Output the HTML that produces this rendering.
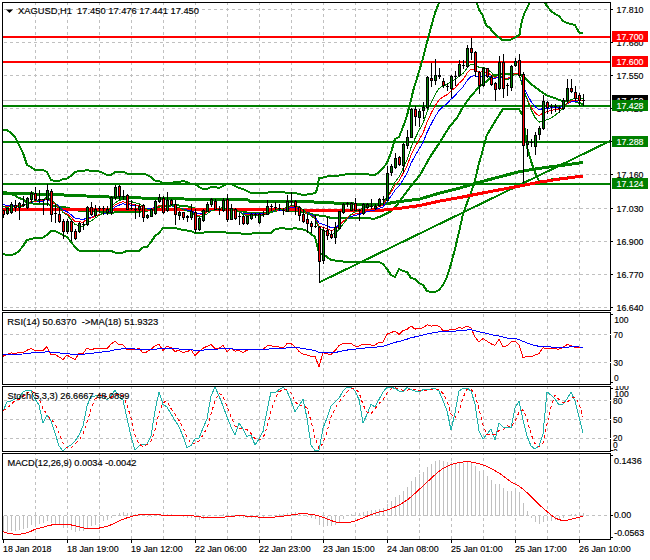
<!DOCTYPE html><html><head><meta charset="utf-8"><style>html,body{margin:0;padding:0;background:#fff;width:650px;height:560px;overflow:hidden}svg{display:block}text{font-family:"Liberation Sans",sans-serif;font-size:9.2px;stroke-width:0.15px}</style></head><body>
<svg width="650" height="560" viewBox="0 0 650 560">
<defs><clipPath id="cm"><rect x="3" y="3" width="607" height="307"/></clipPath><clipPath id="cr"><rect x="3" y="313" width="607" height="71"/></clipPath><clipPath id="cs"><rect x="3" y="387" width="607" height="64"/></clipPath><clipPath id="cd"><rect x="3" y="454" width="607" height="85"/></clipPath></defs>
<g shape-rendering="crispEdges">
<line x1="4" y1="9.5" x2="610" y2="9.5" stroke="#c0c0c0" stroke-dasharray="3 3"/><line x1="4" y1="42.5" x2="610" y2="42.5" stroke="#c0c0c0" stroke-dasharray="3 3"/><line x1="4" y1="75.5" x2="610" y2="75.5" stroke="#c0c0c0" stroke-dasharray="3 3"/><line x1="4" y1="108.5" x2="610" y2="108.5" stroke="#c0c0c0" stroke-dasharray="3 3"/><line x1="4" y1="141.5" x2="610" y2="141.5" stroke="#c0c0c0" stroke-dasharray="3 3"/><line x1="4" y1="174.5" x2="610" y2="174.5" stroke="#c0c0c0" stroke-dasharray="3 3"/><line x1="4" y1="208.5" x2="610" y2="208.5" stroke="#c0c0c0" stroke-dasharray="3 3"/><line x1="4" y1="241.5" x2="610" y2="241.5" stroke="#c0c0c0" stroke-dasharray="3 3"/><line x1="4" y1="274.5" x2="610" y2="274.5" stroke="#c0c0c0" stroke-dasharray="3 3"/><line x1="4" y1="307.5" x2="610" y2="307.5" stroke="#c0c0c0" stroke-dasharray="3 3"/>
<g clip-path="url(#cm)"><line x1="35.5" y1="2" x2="35.5" y2="310" stroke="#c0c0c0" stroke-dasharray="3 3"/></g>
<g clip-path="url(#cr)"><line x1="35.5" y1="308" x2="35.5" y2="384" stroke="#c0c0c0" stroke-dasharray="3 3"/></g>
<g clip-path="url(#cs)"><line x1="35.5" y1="386" x2="35.5" y2="451" stroke="#c0c0c0" stroke-dasharray="3 3"/></g>
<g clip-path="url(#cd)"><line x1="35.5" y1="452" x2="35.5" y2="539" stroke="#c0c0c0" stroke-dasharray="3 3"/></g>
<g clip-path="url(#cm)"><line x1="67.5" y1="2" x2="67.5" y2="310" stroke="#c0c0c0" stroke-dasharray="3 3"/></g>
<g clip-path="url(#cr)"><line x1="67.5" y1="308" x2="67.5" y2="384" stroke="#c0c0c0" stroke-dasharray="3 3"/></g>
<g clip-path="url(#cs)"><line x1="67.5" y1="386" x2="67.5" y2="451" stroke="#c0c0c0" stroke-dasharray="3 3"/></g>
<g clip-path="url(#cd)"><line x1="67.5" y1="452" x2="67.5" y2="539" stroke="#c0c0c0" stroke-dasharray="3 3"/></g>
<g clip-path="url(#cm)"><line x1="99.5" y1="2" x2="99.5" y2="310" stroke="#c0c0c0" stroke-dasharray="3 3"/></g>
<g clip-path="url(#cr)"><line x1="99.5" y1="308" x2="99.5" y2="384" stroke="#c0c0c0" stroke-dasharray="3 3"/></g>
<g clip-path="url(#cs)"><line x1="99.5" y1="386" x2="99.5" y2="451" stroke="#c0c0c0" stroke-dasharray="3 3"/></g>
<g clip-path="url(#cd)"><line x1="99.5" y1="452" x2="99.5" y2="539" stroke="#c0c0c0" stroke-dasharray="3 3"/></g>
<g clip-path="url(#cm)"><line x1="131.5" y1="2" x2="131.5" y2="310" stroke="#c0c0c0" stroke-dasharray="3 3"/></g>
<g clip-path="url(#cr)"><line x1="131.5" y1="308" x2="131.5" y2="384" stroke="#c0c0c0" stroke-dasharray="3 3"/></g>
<g clip-path="url(#cs)"><line x1="131.5" y1="386" x2="131.5" y2="451" stroke="#c0c0c0" stroke-dasharray="3 3"/></g>
<g clip-path="url(#cd)"><line x1="131.5" y1="452" x2="131.5" y2="539" stroke="#c0c0c0" stroke-dasharray="3 3"/></g>
<g clip-path="url(#cm)"><line x1="163.5" y1="2" x2="163.5" y2="310" stroke="#c0c0c0" stroke-dasharray="3 3"/></g>
<g clip-path="url(#cr)"><line x1="163.5" y1="308" x2="163.5" y2="384" stroke="#c0c0c0" stroke-dasharray="3 3"/></g>
<g clip-path="url(#cs)"><line x1="163.5" y1="386" x2="163.5" y2="451" stroke="#c0c0c0" stroke-dasharray="3 3"/></g>
<g clip-path="url(#cd)"><line x1="163.5" y1="452" x2="163.5" y2="539" stroke="#c0c0c0" stroke-dasharray="3 3"/></g>
<g clip-path="url(#cm)"><line x1="195.5" y1="2" x2="195.5" y2="310" stroke="#c0c0c0" stroke-dasharray="3 3"/></g>
<g clip-path="url(#cr)"><line x1="195.5" y1="308" x2="195.5" y2="384" stroke="#c0c0c0" stroke-dasharray="3 3"/></g>
<g clip-path="url(#cs)"><line x1="195.5" y1="386" x2="195.5" y2="451" stroke="#c0c0c0" stroke-dasharray="3 3"/></g>
<g clip-path="url(#cd)"><line x1="195.5" y1="452" x2="195.5" y2="539" stroke="#c0c0c0" stroke-dasharray="3 3"/></g>
<g clip-path="url(#cm)"><line x1="227.5" y1="2" x2="227.5" y2="310" stroke="#c0c0c0" stroke-dasharray="3 3"/></g>
<g clip-path="url(#cr)"><line x1="227.5" y1="308" x2="227.5" y2="384" stroke="#c0c0c0" stroke-dasharray="3 3"/></g>
<g clip-path="url(#cs)"><line x1="227.5" y1="386" x2="227.5" y2="451" stroke="#c0c0c0" stroke-dasharray="3 3"/></g>
<g clip-path="url(#cd)"><line x1="227.5" y1="452" x2="227.5" y2="539" stroke="#c0c0c0" stroke-dasharray="3 3"/></g>
<g clip-path="url(#cm)"><line x1="259.5" y1="2" x2="259.5" y2="310" stroke="#c0c0c0" stroke-dasharray="3 3"/></g>
<g clip-path="url(#cr)"><line x1="259.5" y1="308" x2="259.5" y2="384" stroke="#c0c0c0" stroke-dasharray="3 3"/></g>
<g clip-path="url(#cs)"><line x1="259.5" y1="386" x2="259.5" y2="451" stroke="#c0c0c0" stroke-dasharray="3 3"/></g>
<g clip-path="url(#cd)"><line x1="259.5" y1="452" x2="259.5" y2="539" stroke="#c0c0c0" stroke-dasharray="3 3"/></g>
<g clip-path="url(#cm)"><line x1="291.5" y1="2" x2="291.5" y2="310" stroke="#c0c0c0" stroke-dasharray="3 3"/></g>
<g clip-path="url(#cr)"><line x1="291.5" y1="308" x2="291.5" y2="384" stroke="#c0c0c0" stroke-dasharray="3 3"/></g>
<g clip-path="url(#cs)"><line x1="291.5" y1="386" x2="291.5" y2="451" stroke="#c0c0c0" stroke-dasharray="3 3"/></g>
<g clip-path="url(#cd)"><line x1="291.5" y1="452" x2="291.5" y2="539" stroke="#c0c0c0" stroke-dasharray="3 3"/></g>
<g clip-path="url(#cm)"><line x1="323.5" y1="2" x2="323.5" y2="310" stroke="#c0c0c0" stroke-dasharray="3 3"/></g>
<g clip-path="url(#cr)"><line x1="323.5" y1="308" x2="323.5" y2="384" stroke="#c0c0c0" stroke-dasharray="3 3"/></g>
<g clip-path="url(#cs)"><line x1="323.5" y1="386" x2="323.5" y2="451" stroke="#c0c0c0" stroke-dasharray="3 3"/></g>
<g clip-path="url(#cd)"><line x1="323.5" y1="452" x2="323.5" y2="539" stroke="#c0c0c0" stroke-dasharray="3 3"/></g>
<g clip-path="url(#cm)"><line x1="355.5" y1="2" x2="355.5" y2="310" stroke="#c0c0c0" stroke-dasharray="3 3"/></g>
<g clip-path="url(#cr)"><line x1="355.5" y1="308" x2="355.5" y2="384" stroke="#c0c0c0" stroke-dasharray="3 3"/></g>
<g clip-path="url(#cs)"><line x1="355.5" y1="386" x2="355.5" y2="451" stroke="#c0c0c0" stroke-dasharray="3 3"/></g>
<g clip-path="url(#cd)"><line x1="355.5" y1="452" x2="355.5" y2="539" stroke="#c0c0c0" stroke-dasharray="3 3"/></g>
<g clip-path="url(#cm)"><line x1="387.5" y1="2" x2="387.5" y2="310" stroke="#c0c0c0" stroke-dasharray="3 3"/></g>
<g clip-path="url(#cr)"><line x1="387.5" y1="308" x2="387.5" y2="384" stroke="#c0c0c0" stroke-dasharray="3 3"/></g>
<g clip-path="url(#cs)"><line x1="387.5" y1="386" x2="387.5" y2="451" stroke="#c0c0c0" stroke-dasharray="3 3"/></g>
<g clip-path="url(#cd)"><line x1="387.5" y1="452" x2="387.5" y2="539" stroke="#c0c0c0" stroke-dasharray="3 3"/></g>
<g clip-path="url(#cm)"><line x1="419.5" y1="2" x2="419.5" y2="310" stroke="#c0c0c0" stroke-dasharray="3 3"/></g>
<g clip-path="url(#cr)"><line x1="419.5" y1="308" x2="419.5" y2="384" stroke="#c0c0c0" stroke-dasharray="3 3"/></g>
<g clip-path="url(#cs)"><line x1="419.5" y1="386" x2="419.5" y2="451" stroke="#c0c0c0" stroke-dasharray="3 3"/></g>
<g clip-path="url(#cd)"><line x1="419.5" y1="452" x2="419.5" y2="539" stroke="#c0c0c0" stroke-dasharray="3 3"/></g>
<g clip-path="url(#cm)"><line x1="451.5" y1="2" x2="451.5" y2="310" stroke="#c0c0c0" stroke-dasharray="3 3"/></g>
<g clip-path="url(#cr)"><line x1="451.5" y1="308" x2="451.5" y2="384" stroke="#c0c0c0" stroke-dasharray="3 3"/></g>
<g clip-path="url(#cs)"><line x1="451.5" y1="386" x2="451.5" y2="451" stroke="#c0c0c0" stroke-dasharray="3 3"/></g>
<g clip-path="url(#cd)"><line x1="451.5" y1="452" x2="451.5" y2="539" stroke="#c0c0c0" stroke-dasharray="3 3"/></g>
<g clip-path="url(#cm)"><line x1="483.5" y1="2" x2="483.5" y2="310" stroke="#c0c0c0" stroke-dasharray="3 3"/></g>
<g clip-path="url(#cr)"><line x1="483.5" y1="308" x2="483.5" y2="384" stroke="#c0c0c0" stroke-dasharray="3 3"/></g>
<g clip-path="url(#cs)"><line x1="483.5" y1="386" x2="483.5" y2="451" stroke="#c0c0c0" stroke-dasharray="3 3"/></g>
<g clip-path="url(#cd)"><line x1="483.5" y1="452" x2="483.5" y2="539" stroke="#c0c0c0" stroke-dasharray="3 3"/></g>
<g clip-path="url(#cm)"><line x1="515.5" y1="2" x2="515.5" y2="310" stroke="#c0c0c0" stroke-dasharray="3 3"/></g>
<g clip-path="url(#cr)"><line x1="515.5" y1="308" x2="515.5" y2="384" stroke="#c0c0c0" stroke-dasharray="3 3"/></g>
<g clip-path="url(#cs)"><line x1="515.5" y1="386" x2="515.5" y2="451" stroke="#c0c0c0" stroke-dasharray="3 3"/></g>
<g clip-path="url(#cd)"><line x1="515.5" y1="452" x2="515.5" y2="539" stroke="#c0c0c0" stroke-dasharray="3 3"/></g>
<g clip-path="url(#cm)"><line x1="547.5" y1="2" x2="547.5" y2="310" stroke="#c0c0c0" stroke-dasharray="3 3"/></g>
<g clip-path="url(#cr)"><line x1="547.5" y1="308" x2="547.5" y2="384" stroke="#c0c0c0" stroke-dasharray="3 3"/></g>
<g clip-path="url(#cs)"><line x1="547.5" y1="386" x2="547.5" y2="451" stroke="#c0c0c0" stroke-dasharray="3 3"/></g>
<g clip-path="url(#cd)"><line x1="547.5" y1="452" x2="547.5" y2="539" stroke="#c0c0c0" stroke-dasharray="3 3"/></g>
<g clip-path="url(#cm)"><line x1="579.5" y1="2" x2="579.5" y2="310" stroke="#c0c0c0" stroke-dasharray="3 3"/></g>
<g clip-path="url(#cr)"><line x1="579.5" y1="308" x2="579.5" y2="384" stroke="#c0c0c0" stroke-dasharray="3 3"/></g>
<g clip-path="url(#cs)"><line x1="579.5" y1="386" x2="579.5" y2="451" stroke="#c0c0c0" stroke-dasharray="3 3"/></g>
<g clip-path="url(#cd)"><line x1="579.5" y1="452" x2="579.5" y2="539" stroke="#c0c0c0" stroke-dasharray="3 3"/></g>
</g>
<g clip-path="url(#cm)">
<g shape-rendering="crispEdges">
<line x1="3" y1="100.5" x2="610" y2="100.5" stroke="#c0c0c0"/>
<line x1="3" y1="37" x2="610" y2="37" stroke="#ff0000" stroke-width="2"/>
<line x1="3" y1="62" x2="610" y2="62" stroke="#ff0000" stroke-width="2"/>
<line x1="3" y1="106" x2="610" y2="106" stroke="#008000" stroke-width="2"/>
<line x1="3" y1="142" x2="610" y2="142" stroke="#008000" stroke-width="2"/>
<line x1="3" y1="184" x2="610" y2="184" stroke="#008000" stroke-width="2"/>
</g>
<line x1="320" y1="282" x2="610" y2="141" stroke="#008000" stroke-width="2" shape-rendering="crispEdges"/>
<g shape-rendering="crispEdges">
<polyline points="3,130 7,130 11,133 15,137 19,145 23,153 27,165 31,167 35,170 43,170 47,172 51,180 55,181 59,181 63,179 67,178.5 71,176 75,172 79,171 83,171 87,170 91,171 99,171.5 103,173 107,175 111,175 115,172 119,171.5 123,171.5 127,173.5 143,173.5 147,175 151,177 155,180.5 159,181 163,183 171,183 175,182 179,182 183,181 187,182 191,184 195,184 199,187 203,189 207,189 211,187 215,187 219,188 223,186 227,184 231,184 235,186 239,188 243,189 247,191 251,193 267,193 271,191.5 275,192 295,193 299,194 303,195 307,194.5 311,194 315,193 317,190 319,178 323,177.5 327,176.5 331,176 339,175.5 343,175 347,174 367,174 371,175 375,175 379,172 383,168 387,163 391,152.5 395,139 399,137 403,127 406.6,117 410.2,103 413.4,90 417.7,76 422.5,60 428.4,37 433,20 436,10 439,3 443,-4 451,-10 467,-10 477,3 479,10 482,14 484,19 486,25 487,26 490,28 493,32.5 496,35 499,37.5 502,40 510,40 514,38 519.5,35 521,25 523,17 525,12 527,8 529,4 531,0 535,-5 539,-5 543,0 547,6 551,11 555,14 559,16 563,21 567,23 571,24 575,25 579,32.5 583,32.5" fill="none" stroke="#008000" stroke-width="2" stroke-linejoin="round" />
<polyline points="3,254 7,255 11,255 15,254 19,251 23,246 27,240 31,239 35,238 43,237.5 47,235 51,231 55,231 59,233 63,235 67,237 71,242 75,247 79,250.5 83,251 111,251 115,252.5 123,252.5 127,251 139,251 143,247.5 147,247 151,242 155,236 159,233 163,228 167,228 175,228 179,229 183,230 191,231 195,233 203,233 207,231.5 223,231.5 227,233 239,233 243,234 251,234 255,232.5 271,233 275,229.5 279,228.5 283,228 287,229 291,229 295,228 299,229 303,229.5 307,231 311,234 315,237 319,253 323,254 327,257 331,260 339,261 347,262 363,262 371,262 379,262 383,264 387,269 391,275 395,277 399,269 403,271 407,272 411,278 415,279 419,283 423,285 427,291 431,292 435,292 439,290 443,285 447,277 451,264 455,249 459,232 463,214 467,203 471,192.4 474.4,183.2 475.4,178.8 478.7,164.3 482,153 486.7,135.4 498.8,115.3 503,109 519,109 523,116 527,147 531,161 535,172.5 539,181 543,181.5 551,179.5 583,175.5" fill="none" stroke="#008000" stroke-width="2" stroke-linejoin="round" />
<polyline points="3,192.0 7,192.5 11,194.0 15,195.5 19,198.0 23,199.5 27,202.5 31,203.0 35,204.0 39,203.875 43,203.75 47,203.5 51,205.5 55,206.0 59,207.0 63,207.0 67,207.75 71,209.0 75,209.5 79,210.75 83,211.0 87,210.5 91,211.0 95,211.125 99,211.25 103,212.0 107,213.0 111,213.0 115,212.25 119,212.0 123,212.0 127,212.25 131,212.25 135,212.25 139,212.25 143,210.5 147,211.0 151,209.5 155,208.25 159,207.0 163,205.5 167,205.5 171,205.5 175,205.0 179,205.5 183,205.5 187,206.25 191,207.5 195,208.5 199,210.0 203,211.0 207,210.25 211,209.25 215,209.25 219,209.75 223,208.75 227,208.5 231,208.5 235,209.5 239,210.5 243,211.5 247,212.5 251,213.5 255,212.75 259,212.8125 263,212.875 267,212.9375 271,212.25 275,210.75 279,210.35 283,210.2 287,210.8 291,210.9 295,210.5 299,211.5 303,212.25 307,212.75 311,214.0 315,215.0 319,215.5 323,215.75 327,216.75 331,218.0 335,218.125 339,218.25 343,218.25 347,218.0 351,218.0 355,218.0 359,218.0 363,218.0 367,218.0 371,218.5 375,218.5 379,217.0 380,216.8 390.7,211.4 397,205 404.7,194.3 412.2,184.7 420,175 430,157 440,142 450,126 457,118 463,107 471,96 479,87 487,81 491,77 495,75 503,74 511,74 519,73.5 523,76.5 527,80 531,84 535,87 539,90 543,93 547,95.5 551,97 555,98 559,100 563,101 567,101 575,101.5 579,103 583,104" fill="none" stroke="#008000" stroke-width="2" stroke-linejoin="round" />
<polyline points="3,193 64,195 120,197.5 184,199 248,200 250,201.5 304,201.5 364,204.5 380,205 396,202 420,199 440,193 460,188 480,182 520,171.5 545,167.5 565,165 583,162.5" fill="none" stroke="#008000" stroke-width="3" stroke-linejoin="round" />
<polyline points="3,209 100,209.5 184,209.5 300,210 360,210.5 380,210.4 401,208.2 420,205.5 440,201 460,197.5 480,193.5 520,186 540,182 560,179 583,176" fill="none" stroke="#ff0000" stroke-width="3" stroke-linejoin="round" />
</g>
</g>
<g clip-path="url(#cm)" shape-rendering="crispEdges">
<polyline points="3,204.7 7,205.2 11,205.0 15,205.3 19,205.0 23,205.0 27,203.9 31,202.2 35,201.7 39,201.3 43,201.0 47,199.3 51,201.5 55,203.3 59,206.0 63,209.9 67,211.6 71,214.6 75,218.2 79,218.9 83,219.7 87,217.7 91,217.2 95,215.9 99,214.7 103,213.7 107,212.9 111,210.5 115,206.9 119,205.2 123,203.8 127,204.6 131,205.1 135,205.7 139,205.8 143,207.5 147,208.6 151,208.7 155,207.5 159,205.9 163,206.8 167,205.8 171,205.5 175,206.8 179,207.6 183,209.1 187,210.1 191,210.3 195,213.1 199,213.9 203,213.3 207,211.9 211,209.9 215,209.7 219,209.6 223,208.2 227,209.8 231,209.5 235,210.8 239,211.6 243,213.4 247,213.8 251,213.8 255,213.8 259,213.9 263,213.9 267,212.7 271,211.6 275,210.9 279,210.5 283,210.4 287,209.0 291,207.7 295,207.5 299,208.6 303,210.5 307,212.4 311,214.5 315,216.3 319,223.2 323,224.2 327,225.9 331,227.6 335,227.5 339,225.0 343,221.7 347,218.9 351,216.4 355,215.4 359,214.6 363,213.0 367,211.6 371,210.7 375,210.0 379,208.3 383,206.9 387,201.7 391,196.2 395,190.3 399,186.3 403,179.8 407,173.2 411,163.3 415,156.0 419,149.1 423,142.6 427,132.5 431,124.4 435,116.8 439,110.6 443,106.6 447,103.5 451,99.2 455,95.7 459,90.8 463,86.8 467,80.8 471,76.4 475,75.6 479,77.0 483,75.6 487,75.7 491,77.0 495,78.8 499,76.2 503,78.0 507,79.1 511,77.1 515,74.6 519,74.7 523,85.5 527,94.0 531,101.4 535,106.6 539,109.9 543,108.5 547,108.3 551,107.9 555,107.6 559,107.7 563,106.5 567,103.7 571,101.7 575,101.1 579,101.0 583,100.8" fill="none" stroke="#0000ff" stroke-width="1" stroke-linejoin="round" />
<polyline points="3,206.0 7,206.4 11,205.9 15,206.1 19,205.5 23,205.4 27,203.9 31,201.7 35,201.2 39,200.8 43,200.4 47,198.3 51,201.5 55,203.8 59,207.2 63,212.0 67,213.8 71,217.2 75,221.4 79,221.7 83,222.2 87,219.1 91,218.1 95,216.3 99,214.6 103,213.3 107,212.4 111,209.4 115,204.9 119,203.1 123,201.7 127,203.1 131,204.1 135,205.1 139,205.3 143,207.6 147,209.1 151,209.1 155,207.5 159,205.4 163,206.7 167,205.4 171,205.1 175,206.9 179,207.9 183,209.7 187,211.0 191,211.0 195,214.6 199,215.3 203,214.2 207,212.2 211,209.5 215,209.4 219,209.3 223,207.5 227,209.8 231,209.4 235,211.1 239,212.1 243,214.3 247,214.6 251,214.5 255,214.4 259,214.3 263,214.3 267,212.6 271,211.3 275,210.4 279,209.9 283,210.0 287,208.2 291,206.7 295,206.6 299,208.3 303,210.8 307,213.3 311,215.8 315,217.8 319,226.5 323,227.2 327,228.7 331,230.4 335,229.7 339,226.0 343,221.6 347,217.9 351,214.9 355,213.9 359,213.1 363,211.3 367,209.8 371,209.1 375,208.5 379,206.6 383,205.1 387,198.6 391,192.1 395,185.3 399,181.0 403,173.6 407,166.3 411,154.8 415,147.1 419,139.9 423,133.3 427,122.0 431,113.6 435,105.9 439,99.9 443,96.9 447,94.7 451,91.0 455,88.0 459,83.2 463,79.6 467,73.2 471,69.0 475,69.4 479,72.5 483,71.6 487,72.5 491,74.8 495,77.6 499,74.5 503,77.2 507,78.8 511,76.2 515,73.2 519,73.5 523,87.8 527,98.5 531,107.2 535,112.7 539,115.8 543,112.8 547,111.7 551,110.5 555,109.6 559,109.3 563,107.4 567,103.6 571,101.0 575,100.4 579,100.3 583,100.3" fill="none" stroke="#ff0000" stroke-width="1" stroke-linejoin="round" />
<polyline points="3,206.8 7,207.2 11,206.7 15,206.9 19,206.2 23,206.0 27,204.3 31,201.8 35,200.8 39,199.9 43,199.4 47,197.2 51,200.2 55,202.8 59,206.7 63,212.4 67,215.2 71,219.5 75,224.5 79,225.6 83,226.3 87,222.9 91,221.1 95,218.2 99,215.4 103,213.1 107,211.3 111,207.6 115,202.8 119,200.6 123,199.0 127,200.3 131,201.5 135,202.9 139,203.6 143,206.7 147,209.1 151,210.0 155,208.7 159,206.6 163,207.4 167,205.7 171,205.1 175,206.5 179,207.4 183,209.4 187,211.1 191,211.7 195,215.6 199,216.7 203,216.0 207,213.9 211,210.8 215,210.0 219,209.3 223,206.9 227,208.8 231,208.2 235,210.1 239,211.6 243,214.4 247,215.4 251,215.5 255,215.6 259,215.6 263,215.2 267,213.4 271,211.6 275,210.2 279,209.3 283,209.1 287,207.2 291,205.6 295,205.4 299,207.0 303,209.9 307,212.8 311,216.0 315,218.7 319,228.1 323,230.1 327,232.4 331,234.4 335,233.7 339,229.6 343,224.2 347,219.1 351,214.5 355,211.8 359,210.3 363,208.0 367,206.4 371,205.9 375,205.8 379,204.5 383,203.3 387,197.0 391,190.0 395,182.3 399,177.0 403,168.6 407,160.1 411,147.5 415,138.5 419,130.4 423,123.4 427,111.8 431,102.9 435,94.7 439,88.6 443,85.9 447,84.5 451,81.6 455,79.7 459,76.1 463,73.6 467,68.0 471,64.0 475,64.2 479,67.4 483,67.1 487,68.9 491,72.2 495,76.4 499,74.6 503,78.1 507,80.1 511,77.6 515,74.2 519,74.1 523,87.8 527,99.3 531,109.6 535,117.4 539,122.2 543,120.6 547,119.9 551,118.1 555,115.3 559,112.2 563,108.4 567,103.0 571,99.5 575,98.3 579,98.2 583,98.1" fill="none" stroke="#008000" stroke-width="1" stroke-linejoin="round" />
</g>
<g clip-path="url(#cm)" shape-rendering="crispEdges">
<line x1="3.5" y1="210" x2="3.5" y2="218" stroke="#000"/>
<rect x="2.5" y="210.5" width="2" height="4" fill="#ff0000" stroke="#000"/>
<line x1="7.5" y1="208" x2="7.5" y2="215" stroke="#000"/>
<rect x="6.5" y="208.5" width="2" height="5" fill="#008000" stroke="#000"/>
<line x1="11.5" y1="202" x2="11.5" y2="214" stroke="#000"/>
<rect x="10.5" y="204.5" width="2" height="8" fill="#008000" stroke="#000"/>
<line x1="15.5" y1="200" x2="15.5" y2="212" stroke="#000"/>
<rect x="14.5" y="205.5" width="2" height="2" fill="#ff0000" stroke="#000"/>
<line x1="19.5" y1="202" x2="19.5" y2="220" stroke="#000"/>
<rect x="18.5" y="203.5" width="2" height="4" fill="#008000" stroke="#000"/>
<line x1="23.5" y1="196" x2="23.5" y2="207" stroke="#000"/>
<rect x="22.5" y="204.5" width="2" height="1" fill="#ff0000" stroke="#000"/>
<line x1="27.5" y1="197" x2="27.5" y2="209" stroke="#000"/>
<rect x="26.5" y="198.5" width="2" height="9" fill="#008000" stroke="#000"/>
<line x1="31.5" y1="191" x2="31.5" y2="203" stroke="#000"/>
<rect x="30.5" y="193.5" width="2" height="6" fill="#008000" stroke="#000"/>
<line x1="35.5" y1="187" x2="35.5" y2="201" stroke="#000"/>
<rect x="34.5" y="193.5" width="2" height="6" fill="#ff0000" stroke="#000"/>
<line x1="39.5" y1="190" x2="39.5" y2="203" stroke="#000"/>
<line x1="38" y1="199.5" x2="41" y2="199.5" stroke="#000"/>
<line x1="43.5" y1="199" x2="43.5" y2="215" stroke="#000"/>
<line x1="42" y1="199.5" x2="45" y2="199.5" stroke="#000"/>
<line x1="47.5" y1="184" x2="47.5" y2="206" stroke="#000"/>
<rect x="46.5" y="190.5" width="2" height="9" fill="#008000" stroke="#000"/>
<line x1="51.5" y1="189" x2="51.5" y2="222" stroke="#000"/>
<rect x="50.5" y="191.5" width="2" height="23" fill="#ff0000" stroke="#000"/>
<line x1="55.5" y1="204" x2="55.5" y2="223" stroke="#000"/>
<line x1="54" y1="213.5" x2="57" y2="213.5" stroke="#000"/>
<line x1="59.5" y1="207" x2="59.5" y2="223" stroke="#000"/>
<rect x="58.5" y="214.5" width="2" height="7" fill="#ff0000" stroke="#000"/>
<line x1="63.5" y1="219" x2="63.5" y2="239" stroke="#000"/>
<rect x="62.5" y="221.5" width="2" height="10" fill="#ff0000" stroke="#000"/>
<line x1="67.5" y1="219" x2="67.5" y2="234" stroke="#000"/>
<rect x="66.5" y="221.5" width="2" height="10" fill="#008000" stroke="#000"/>
<line x1="71.5" y1="220" x2="71.5" y2="241" stroke="#000"/>
<rect x="70.5" y="221.5" width="2" height="10" fill="#ff0000" stroke="#000"/>
<line x1="75.5" y1="229" x2="75.5" y2="240" stroke="#000"/>
<rect x="74.5" y="231.5" width="2" height="7" fill="#ff0000" stroke="#000"/>
<line x1="79.5" y1="222" x2="79.5" y2="233" stroke="#000"/>
<rect x="78.5" y="223.5" width="2" height="8" fill="#008000" stroke="#000"/>
<line x1="83.5" y1="222" x2="83.5" y2="230" stroke="#000"/>
<line x1="82" y1="224.5" x2="85" y2="224.5" stroke="#000"/>
<line x1="87.5" y1="206" x2="87.5" y2="226" stroke="#000"/>
<rect x="86.5" y="207.5" width="2" height="17" fill="#008000" stroke="#000"/>
<line x1="91.5" y1="202" x2="91.5" y2="216" stroke="#000"/>
<rect x="90.5" y="207.5" width="2" height="7" fill="#ff0000" stroke="#000"/>
<line x1="95.5" y1="205" x2="95.5" y2="217" stroke="#000"/>
<rect x="94.5" y="209.5" width="2" height="6" fill="#008000" stroke="#000"/>
<line x1="99.5" y1="206" x2="99.5" y2="213" stroke="#000"/>
<line x1="98" y1="208.5" x2="101" y2="208.5" stroke="#000"/>
<line x1="103.5" y1="206" x2="103.5" y2="215" stroke="#000"/>
<line x1="102" y1="208.5" x2="105" y2="208.5" stroke="#000"/>
<line x1="107.5" y1="206" x2="107.5" y2="215" stroke="#000"/>
<rect x="106.5" y="209.5" width="2" height="3" fill="#008000" stroke="#000"/>
<line x1="111.5" y1="196" x2="111.5" y2="215" stroke="#000"/>
<rect x="110.5" y="197.5" width="2" height="15" fill="#008000" stroke="#000"/>
<line x1="115.5" y1="185" x2="115.5" y2="200" stroke="#000"/>
<rect x="114.5" y="187.5" width="2" height="10" fill="#008000" stroke="#000"/>
<line x1="119.5" y1="185" x2="119.5" y2="200" stroke="#000"/>
<rect x="118.5" y="186.5" width="2" height="10" fill="#ff0000" stroke="#000"/>
<line x1="123.5" y1="190" x2="123.5" y2="200" stroke="#000"/>
<line x1="122" y1="196.5" x2="125" y2="196.5" stroke="#000"/>
<line x1="127.5" y1="194" x2="127.5" y2="210" stroke="#000"/>
<rect x="126.5" y="195.5" width="2" height="14" fill="#ff0000" stroke="#000"/>
<line x1="131.5" y1="200" x2="131.5" y2="210" stroke="#000"/>
<line x1="130" y1="208.5" x2="133" y2="208.5" stroke="#000"/>
<line x1="135.5" y1="204" x2="135.5" y2="219" stroke="#000"/>
<line x1="134" y1="209.5" x2="137" y2="209.5" stroke="#000"/>
<line x1="139.5" y1="204" x2="139.5" y2="217" stroke="#000"/>
<rect x="138.5" y="206.5" width="2" height="3" fill="#008000" stroke="#000"/>
<line x1="143.5" y1="204" x2="143.5" y2="222" stroke="#000"/>
<rect x="142.5" y="205.5" width="2" height="12" fill="#ff0000" stroke="#000"/>
<line x1="147.5" y1="214" x2="147.5" y2="219" stroke="#000"/>
<rect x="146.5" y="215.5" width="2" height="2" fill="#008000" stroke="#000"/>
<line x1="151.5" y1="208" x2="151.5" y2="217" stroke="#000"/>
<rect x="150.5" y="209.5" width="2" height="7" fill="#008000" stroke="#000"/>
<line x1="155.5" y1="200" x2="155.5" y2="215" stroke="#000"/>
<rect x="154.5" y="201.5" width="2" height="12" fill="#008000" stroke="#000"/>
<line x1="159.5" y1="194" x2="159.5" y2="203" stroke="#000"/>
<rect x="158.5" y="197.5" width="2" height="4" fill="#008000" stroke="#000"/>
<line x1="163.5" y1="196" x2="163.5" y2="214" stroke="#000"/>
<rect x="162.5" y="198.5" width="2" height="14" fill="#ff0000" stroke="#000"/>
<line x1="167.5" y1="192" x2="167.5" y2="212" stroke="#000"/>
<rect x="166.5" y="200.5" width="2" height="10" fill="#008000" stroke="#000"/>
<line x1="171.5" y1="199" x2="171.5" y2="206" stroke="#000"/>
<rect x="170.5" y="200.5" width="2" height="4" fill="#ff0000" stroke="#000"/>
<line x1="175.5" y1="200" x2="175.5" y2="225" stroke="#000"/>
<rect x="174.5" y="204.5" width="2" height="10" fill="#ff0000" stroke="#000"/>
<line x1="179.5" y1="211" x2="179.5" y2="220" stroke="#000"/>
<rect x="178.5" y="212.5" width="2" height="3" fill="#008000" stroke="#000"/>
<line x1="183.5" y1="212" x2="183.5" y2="220" stroke="#000"/>
<rect x="182.5" y="212.5" width="2" height="5" fill="#ff0000" stroke="#000"/>
<line x1="187.5" y1="215" x2="187.5" y2="222" stroke="#000"/>
<rect x="186.5" y="216.5" width="2" height="1" fill="#008000" stroke="#000"/>
<line x1="191.5" y1="204" x2="191.5" y2="220" stroke="#000"/>
<rect x="190.5" y="211.5" width="2" height="6" fill="#008000" stroke="#000"/>
<line x1="195.5" y1="209" x2="195.5" y2="233" stroke="#000"/>
<rect x="194.5" y="212.5" width="2" height="17" fill="#ff0000" stroke="#000"/>
<line x1="199.5" y1="217" x2="199.5" y2="231" stroke="#000"/>
<rect x="198.5" y="218.5" width="2" height="11" fill="#008000" stroke="#000"/>
<line x1="203.5" y1="209" x2="203.5" y2="222" stroke="#000"/>
<rect x="202.5" y="210.5" width="2" height="10" fill="#008000" stroke="#000"/>
<line x1="207.5" y1="202" x2="207.5" y2="212" stroke="#000"/>
<rect x="206.5" y="204.5" width="2" height="7" fill="#008000" stroke="#000"/>
<line x1="211.5" y1="198" x2="211.5" y2="207" stroke="#000"/>
<rect x="210.5" y="199.5" width="2" height="5" fill="#008000" stroke="#000"/>
<line x1="215.5" y1="199" x2="215.5" y2="210" stroke="#000"/>
<rect x="214.5" y="201.5" width="2" height="8" fill="#ff0000" stroke="#000"/>
<line x1="219.5" y1="206" x2="219.5" y2="215" stroke="#000"/>
<line x1="218" y1="209.5" x2="221" y2="209.5" stroke="#000"/>
<line x1="223.5" y1="198" x2="223.5" y2="212" stroke="#000"/>
<rect x="222.5" y="200.5" width="2" height="10" fill="#008000" stroke="#000"/>
<line x1="227.5" y1="194" x2="227.5" y2="222" stroke="#000"/>
<rect x="226.5" y="199.5" width="2" height="20" fill="#ff0000" stroke="#000"/>
<line x1="231.5" y1="204" x2="231.5" y2="220" stroke="#000"/>
<rect x="230.5" y="208.5" width="2" height="11" fill="#008000" stroke="#000"/>
<line x1="235.5" y1="208" x2="235.5" y2="220" stroke="#000"/>
<rect x="234.5" y="209.5" width="2" height="9" fill="#ff0000" stroke="#000"/>
<line x1="239.5" y1="213" x2="239.5" y2="225" stroke="#000"/>
<line x1="238" y1="216.5" x2="241" y2="216.5" stroke="#000"/>
<line x1="243.5" y1="215" x2="243.5" y2="225" stroke="#000"/>
<rect x="242.5" y="216.5" width="2" height="7" fill="#ff0000" stroke="#000"/>
<line x1="247.5" y1="216" x2="247.5" y2="225" stroke="#000"/>
<rect x="246.5" y="216.5" width="2" height="7" fill="#008000" stroke="#000"/>
<line x1="251.5" y1="213" x2="251.5" y2="220" stroke="#000"/>
<rect x="250.5" y="214.5" width="2" height="4" fill="#008000" stroke="#000"/>
<line x1="255.5" y1="213" x2="255.5" y2="218" stroke="#000"/>
<line x1="254" y1="214.5" x2="257" y2="214.5" stroke="#000"/>
<line x1="259.5" y1="213" x2="259.5" y2="224" stroke="#000"/>
<rect x="258.5" y="214.5" width="2" height="8" fill="#008000" stroke="#000"/>
<line x1="263.5" y1="211" x2="263.5" y2="217" stroke="#000"/>
<line x1="262" y1="214.5" x2="265" y2="214.5" stroke="#000"/>
<line x1="267.5" y1="200" x2="267.5" y2="215" stroke="#000"/>
<rect x="266.5" y="206.5" width="2" height="8" fill="#008000" stroke="#000"/>
<line x1="271.5" y1="204" x2="271.5" y2="211" stroke="#000"/>
<line x1="270" y1="206.5" x2="273" y2="206.5" stroke="#000"/>
<line x1="275.5" y1="202" x2="275.5" y2="210" stroke="#000"/>
<line x1="274" y1="207.5" x2="277" y2="207.5" stroke="#000"/>
<line x1="279.5" y1="204" x2="279.5" y2="211" stroke="#000"/>
<line x1="278" y1="208.5" x2="281" y2="208.5" stroke="#000"/>
<line x1="283.5" y1="208" x2="283.5" y2="215" stroke="#000"/>
<line x1="282" y1="210.5" x2="285" y2="210.5" stroke="#000"/>
<line x1="287.5" y1="195" x2="287.5" y2="212" stroke="#000"/>
<rect x="286.5" y="201.5" width="2" height="10" fill="#008000" stroke="#000"/>
<line x1="291.5" y1="192" x2="291.5" y2="206" stroke="#000"/>
<line x1="290" y1="201.5" x2="293" y2="201.5" stroke="#000"/>
<line x1="295.5" y1="200" x2="295.5" y2="215" stroke="#000"/>
<rect x="294.5" y="201.5" width="2" height="5" fill="#ff0000" stroke="#000"/>
<line x1="299.5" y1="206" x2="299.5" y2="221" stroke="#000"/>
<rect x="298.5" y="207.5" width="2" height="8" fill="#ff0000" stroke="#000"/>
<line x1="303.5" y1="209" x2="303.5" y2="223" stroke="#000"/>
<rect x="302.5" y="214.5" width="2" height="7" fill="#ff0000" stroke="#000"/>
<line x1="307.5" y1="214" x2="307.5" y2="233" stroke="#000"/>
<rect x="306.5" y="219.5" width="2" height="4" fill="#ff0000" stroke="#000"/>
<line x1="311.5" y1="221" x2="311.5" y2="233" stroke="#000"/>
<rect x="310.5" y="223.5" width="2" height="3" fill="#ff0000" stroke="#000"/>
<line x1="315.5" y1="215" x2="315.5" y2="228" stroke="#000"/>
<line x1="314" y1="226.5" x2="317" y2="226.5" stroke="#000"/>
<line x1="319.5" y1="226" x2="319.5" y2="283" stroke="#000"/>
<rect x="318.5" y="227.5" width="2" height="34" fill="#ff0000" stroke="#000"/>
<line x1="323.5" y1="227" x2="323.5" y2="264" stroke="#000"/>
<rect x="322.5" y="230.5" width="2" height="30" fill="#008000" stroke="#000"/>
<line x1="327.5" y1="217" x2="327.5" y2="240" stroke="#000"/>
<rect x="326.5" y="230.5" width="2" height="5" fill="#ff0000" stroke="#000"/>
<line x1="331.5" y1="230" x2="331.5" y2="239" stroke="#000"/>
<rect x="330.5" y="234.5" width="2" height="3" fill="#ff0000" stroke="#000"/>
<line x1="335.5" y1="222" x2="335.5" y2="244" stroke="#000"/>
<rect x="334.5" y="227.5" width="2" height="10" fill="#008000" stroke="#000"/>
<line x1="339.5" y1="211" x2="339.5" y2="229" stroke="#000"/>
<rect x="338.5" y="211.5" width="2" height="17" fill="#008000" stroke="#000"/>
<line x1="343.5" y1="203" x2="343.5" y2="214" stroke="#000"/>
<rect x="342.5" y="204.5" width="2" height="8" fill="#008000" stroke="#000"/>
<line x1="347.5" y1="202" x2="347.5" y2="207" stroke="#000"/>
<line x1="346" y1="203.5" x2="349" y2="203.5" stroke="#000"/>
<line x1="351.5" y1="202" x2="351.5" y2="211" stroke="#000"/>
<rect x="350.5" y="203.5" width="2" height="7" fill="#008000" stroke="#000"/>
<line x1="355.5" y1="198" x2="355.5" y2="211" stroke="#000"/>
<rect x="354.5" y="203.5" width="2" height="7" fill="#ff0000" stroke="#000"/>
<line x1="359.5" y1="209" x2="359.5" y2="221" stroke="#000"/>
<line x1="358" y1="210.5" x2="361" y2="210.5" stroke="#000"/>
<line x1="363.5" y1="203" x2="363.5" y2="215" stroke="#000"/>
<rect x="362.5" y="204.5" width="2" height="9" fill="#008000" stroke="#000"/>
<line x1="367.5" y1="203" x2="367.5" y2="209" stroke="#000"/>
<rect x="366.5" y="204.5" width="2" height="3" fill="#008000" stroke="#000"/>
<line x1="371.5" y1="199" x2="371.5" y2="209" stroke="#000"/>
<line x1="370" y1="206.5" x2="373" y2="206.5" stroke="#000"/>
<line x1="375.5" y1="204" x2="375.5" y2="210" stroke="#000"/>
<rect x="374.5" y="206.5" width="2" height="2" fill="#008000" stroke="#000"/>
<line x1="379.5" y1="198" x2="379.5" y2="207" stroke="#000"/>
<rect x="378.5" y="199.5" width="2" height="6" fill="#008000" stroke="#000"/>
<line x1="383.5" y1="196" x2="383.5" y2="205" stroke="#000"/>
<line x1="382" y1="199.5" x2="385" y2="199.5" stroke="#000"/>
<line x1="387.5" y1="166" x2="387.5" y2="201" stroke="#000"/>
<rect x="386.5" y="173.5" width="2" height="27" fill="#008000" stroke="#000"/>
<line x1="391.5" y1="164" x2="391.5" y2="176" stroke="#000"/>
<rect x="390.5" y="166.5" width="2" height="6" fill="#008000" stroke="#000"/>
<line x1="395.5" y1="153" x2="395.5" y2="169" stroke="#000"/>
<rect x="394.5" y="158.5" width="2" height="9" fill="#008000" stroke="#000"/>
<line x1="399.5" y1="156" x2="399.5" y2="166" stroke="#000"/>
<rect x="398.5" y="157.5" width="2" height="7" fill="#ff0000" stroke="#000"/>
<line x1="403.5" y1="143" x2="403.5" y2="173" stroke="#000"/>
<rect x="402.5" y="144.5" width="2" height="21" fill="#008000" stroke="#000"/>
<line x1="407.5" y1="130" x2="407.5" y2="149" stroke="#000"/>
<rect x="406.5" y="137.5" width="2" height="8" fill="#008000" stroke="#000"/>
<line x1="411.5" y1="108" x2="411.5" y2="138" stroke="#000"/>
<rect x="410.5" y="109.5" width="2" height="28" fill="#008000" stroke="#000"/>
<line x1="415.5" y1="106" x2="415.5" y2="126" stroke="#000"/>
<rect x="414.5" y="109.5" width="2" height="7" fill="#ff0000" stroke="#000"/>
<line x1="419.5" y1="109" x2="419.5" y2="127" stroke="#000"/>
<rect x="418.5" y="111.5" width="2" height="6" fill="#008000" stroke="#000"/>
<line x1="423.5" y1="102" x2="423.5" y2="119" stroke="#000"/>
<rect x="422.5" y="107.5" width="2" height="3" fill="#008000" stroke="#000"/>
<line x1="427.5" y1="76" x2="427.5" y2="109" stroke="#000"/>
<rect x="426.5" y="77.5" width="2" height="30" fill="#008000" stroke="#000"/>
<line x1="431.5" y1="63" x2="431.5" y2="87" stroke="#000"/>
<rect x="430.5" y="78.5" width="2" height="2" fill="#ff0000" stroke="#000"/>
<line x1="435.5" y1="59" x2="435.5" y2="85" stroke="#000"/>
<rect x="434.5" y="75.5" width="2" height="5" fill="#008000" stroke="#000"/>
<line x1="439.5" y1="68" x2="439.5" y2="79" stroke="#000"/>
<rect x="438.5" y="75.5" width="2" height="1" fill="#ff0000" stroke="#000"/>
<line x1="443.5" y1="78" x2="443.5" y2="88" stroke="#000"/>
<rect x="442.5" y="81.5" width="2" height="4" fill="#ff0000" stroke="#000"/>
<line x1="447.5" y1="83" x2="447.5" y2="91" stroke="#000"/>
<line x1="446" y1="86.5" x2="449" y2="86.5" stroke="#000"/>
<line x1="451.5" y1="75" x2="451.5" y2="98" stroke="#000"/>
<rect x="450.5" y="76.5" width="2" height="12" fill="#008000" stroke="#000"/>
<line x1="455.5" y1="71" x2="455.5" y2="86" stroke="#000"/>
<line x1="454" y1="76.5" x2="457" y2="76.5" stroke="#000"/>
<line x1="459.5" y1="60" x2="459.5" y2="77" stroke="#000"/>
<rect x="458.5" y="64.5" width="2" height="11" fill="#008000" stroke="#000"/>
<line x1="463.5" y1="60" x2="463.5" y2="69" stroke="#000"/>
<line x1="462" y1="65.5" x2="465" y2="65.5" stroke="#000"/>
<line x1="467.5" y1="45" x2="467.5" y2="68" stroke="#000"/>
<rect x="466.5" y="48.5" width="2" height="18" fill="#008000" stroke="#000"/>
<line x1="471.5" y1="38" x2="471.5" y2="60" stroke="#000"/>
<rect x="470.5" y="48.5" width="2" height="4" fill="#ff0000" stroke="#000"/>
<line x1="475.5" y1="51" x2="475.5" y2="77" stroke="#000"/>
<rect x="474.5" y="52.5" width="2" height="19" fill="#ff0000" stroke="#000"/>
<line x1="479.5" y1="71" x2="479.5" y2="94" stroke="#000"/>
<rect x="478.5" y="72.5" width="2" height="13" fill="#ff0000" stroke="#000"/>
<line x1="483.5" y1="67" x2="483.5" y2="87" stroke="#000"/>
<rect x="482.5" y="68.5" width="2" height="17" fill="#008000" stroke="#000"/>
<line x1="487.5" y1="68" x2="487.5" y2="78" stroke="#000"/>
<rect x="486.5" y="68.5" width="2" height="8" fill="#ff0000" stroke="#000"/>
<line x1="491.5" y1="75" x2="491.5" y2="86" stroke="#000"/>
<rect x="490.5" y="77.5" width="2" height="7" fill="#ff0000" stroke="#000"/>
<line x1="495.5" y1="82" x2="495.5" y2="101" stroke="#000"/>
<rect x="494.5" y="83.5" width="2" height="6" fill="#ff0000" stroke="#000"/>
<line x1="499.5" y1="56" x2="499.5" y2="90" stroke="#000"/>
<rect x="498.5" y="62.5" width="2" height="26" fill="#008000" stroke="#000"/>
<line x1="503.5" y1="54" x2="503.5" y2="98" stroke="#000"/>
<rect x="502.5" y="62.5" width="2" height="26" fill="#ff0000" stroke="#000"/>
<line x1="507.5" y1="83" x2="507.5" y2="96" stroke="#000"/>
<line x1="506" y1="85.5" x2="509" y2="85.5" stroke="#000"/>
<line x1="511.5" y1="65" x2="511.5" y2="91" stroke="#000"/>
<rect x="510.5" y="66.5" width="2" height="21" fill="#008000" stroke="#000"/>
<line x1="515.5" y1="58" x2="515.5" y2="67" stroke="#000"/>
<rect x="514.5" y="61.5" width="2" height="4" fill="#008000" stroke="#000"/>
<line x1="519.5" y1="54" x2="519.5" y2="77" stroke="#000"/>
<rect x="518.5" y="60.5" width="2" height="15" fill="#ff0000" stroke="#000"/>
<line x1="523.5" y1="72" x2="523.5" y2="183" stroke="#000"/>
<rect x="522.5" y="74.5" width="2" height="71" fill="#ff0000" stroke="#000"/>
<line x1="527.5" y1="129" x2="527.5" y2="157" stroke="#000"/>
<rect x="526.5" y="141.5" width="2" height="3" fill="#008000" stroke="#000"/>
<line x1="531.5" y1="139" x2="531.5" y2="147" stroke="#000"/>
<line x1="530" y1="142.5" x2="533" y2="142.5" stroke="#000"/>
<line x1="535.5" y1="132" x2="535.5" y2="155" stroke="#000"/>
<rect x="534.5" y="135.5" width="2" height="11" fill="#008000" stroke="#000"/>
<line x1="539.5" y1="126" x2="539.5" y2="140" stroke="#000"/>
<rect x="538.5" y="128.5" width="2" height="6" fill="#008000" stroke="#000"/>
<line x1="543.5" y1="95" x2="543.5" y2="130" stroke="#000"/>
<rect x="542.5" y="101.5" width="2" height="27" fill="#008000" stroke="#000"/>
<line x1="547.5" y1="101" x2="547.5" y2="114" stroke="#000"/>
<rect x="546.5" y="102.5" width="2" height="5" fill="#ff0000" stroke="#000"/>
<line x1="551.5" y1="104" x2="551.5" y2="114" stroke="#000"/>
<line x1="550" y1="106.5" x2="553" y2="106.5" stroke="#000"/>
<line x1="555.5" y1="104" x2="555.5" y2="112" stroke="#000"/>
<line x1="554" y1="106.5" x2="557" y2="106.5" stroke="#000"/>
<line x1="559.5" y1="106" x2="559.5" y2="113" stroke="#000"/>
<line x1="558" y1="108.5" x2="561" y2="108.5" stroke="#000"/>
<line x1="563.5" y1="98" x2="563.5" y2="110" stroke="#000"/>
<rect x="562.5" y="100.5" width="2" height="8" fill="#008000" stroke="#000"/>
<line x1="567.5" y1="79" x2="567.5" y2="103" stroke="#000"/>
<rect x="566.5" y="88.5" width="2" height="12" fill="#008000" stroke="#000"/>
<line x1="571.5" y1="79" x2="571.5" y2="93" stroke="#000"/>
<rect x="570.5" y="88.5" width="2" height="3" fill="#ff0000" stroke="#000"/>
<line x1="575.5" y1="86" x2="575.5" y2="101" stroke="#000"/>
<rect x="574.5" y="92.5" width="2" height="6" fill="#ff0000" stroke="#000"/>
<line x1="579.5" y1="93" x2="579.5" y2="106" stroke="#000"/>
<rect x="578.5" y="95.5" width="2" height="5" fill="#ff0000" stroke="#000"/>
<line x1="583.5" y1="94" x2="583.5" y2="106" stroke="#000"/>
<line x1="582" y1="100.5" x2="585" y2="100.5" stroke="#000"/>
</g>
<g clip-path="url(#cr)" shape-rendering="crispEdges">
<line x1="4" y1="334.5" x2="610" y2="334.5" stroke="#c0c0c0" stroke-dasharray="3 3"/><line x1="4" y1="362.5" x2="610" y2="362.5" stroke="#c0c0c0" stroke-dasharray="3 3"/>
<polyline points="3,356.3 7,354.2 11,352.9 15,353.7 19,352.2 23,352.8 27,350.2 31,348.4 35,350.5 39,350.5 43,350.5 47,346.7 51,355.0 55,354.6 59,356.9 63,359.4 67,355.1 71,357.7 75,359.4 79,353.4 83,353.7 87,347.9 91,350.0 95,348.4 99,348.1 103,348.1 107,348.5 111,344.2 115,341.1 119,344.8 123,344.8 127,349.8 131,349.4 135,349.8 139,348.5 143,352.8 147,351.9 151,349.2 155,345.9 159,344.4 163,350.6 167,346.2 171,347.7 175,351.3 179,350.5 183,352.3 187,351.8 191,349.6 195,355.8 199,351.3 203,348.3 207,346.3 211,344.6 215,348.4 219,348.4 223,345.2 227,351.9 231,348.1 235,351.2 239,350.5 243,352.7 247,350.1 251,349.4 255,349.4 259,349.4 263,349.4 267,345.9 271,345.9 275,346.4 279,347.0 283,348.1 287,343.6 291,343.6 295,346.7 299,351.4 303,354.2 307,355.0 311,356.3 315,356.3 319,366.7 323,352.5 327,353.9 331,354.4 335,350.7 339,345.6 343,343.7 347,343.4 351,343.4 355,346.2 359,346.2 363,344.1 367,344.1 371,345.0 375,345.0 379,342.2 383,342.2 387,334.2 391,332.6 395,331.0 399,334.4 403,330.5 407,329.4 411,325.9 415,329.1 419,328.4 423,327.9 427,324.8 431,326.1 435,325.6 439,326.1 443,330.5 447,330.9 451,329.4 455,329.4 459,327.7 463,328.2 467,326.0 471,328.1 475,336.9 479,342.1 483,338.4 487,341.2 491,343.8 495,345.3 499,339.4 503,346.6 507,345.9 511,342.0 515,341.1 519,344.9 523,357.5 527,356.6 531,356.7 535,355.1 539,353.5 543,347.8 547,349.0 551,348.8 555,348.8 559,349.2 563,347.3 567,344.6 571,345.4 575,347.3 579,347.9 583,347.9" fill="none" stroke="#ff0000" stroke-width="1" stroke-linejoin="round" />
<polyline points="3,354.6 7,354.6 11,354.4 15,354.3 19,354.1 23,354.0 27,353.6 31,353.0 35,352.8 39,352.5 43,352.3 47,351.7 51,352.1 55,352.3 59,352.8 63,353.5 67,353.7 71,354.1 75,354.7 79,354.5 83,354.4 87,353.7 91,353.4 95,352.8 99,352.3 103,351.9 107,351.5 111,350.8 115,349.7 119,349.2 123,348.8 127,348.9 131,348.9 135,349.0 139,349.0 143,349.4 147,349.6 151,349.6 155,349.2 159,348.7 163,348.9 167,348.6 171,348.5 175,348.8 179,349.0 183,349.3 187,349.6 191,349.6 195,350.3 199,350.4 203,350.1 207,349.7 211,349.2 215,349.1 219,349.0 223,348.6 227,349.0 231,348.9 235,349.1 239,349.3 243,349.6 247,349.7 251,349.6 255,349.6 259,349.6 263,349.6 267,349.2 271,348.8 275,348.6 279,348.4 283,348.4 287,347.9 291,347.4 295,347.3 299,347.8 303,348.5 307,349.1 311,349.9 315,350.6 319,352.3 323,352.3 327,352.5 331,352.7 335,352.5 339,351.7 343,350.9 347,350.1 351,349.4 355,349.1 359,348.8 363,348.3 367,347.8 371,347.5 375,347.3 379,346.7 383,346.3 387,345.0 391,343.7 395,342.3 399,341.5 403,340.3 407,339.2 411,337.8 415,336.9 419,336.0 423,335.1 427,334.0 431,333.2 435,332.4 439,331.8 443,331.6 447,331.5 451,331.3 455,331.1 459,330.8 463,330.5 467,330.0 471,329.8 475,330.6 479,331.8 483,332.5 487,333.4 491,334.5 495,335.6 499,336.0 503,337.1 507,338.1 511,338.5 515,338.7 519,339.4 523,341.3 527,342.9 531,344.4 535,345.5 539,346.3 543,346.5 547,346.8 551,347.0 555,347.2 559,347.4 563,347.4 567,347.1 571,346.9 575,346.9 579,347.0 583,347.1" fill="none" stroke="#0000ff" stroke-width="1" stroke-linejoin="round" />
</g>
<g clip-path="url(#cs)" shape-rendering="crispEdges">
<line x1="4" y1="400.5" x2="610" y2="400.5" stroke="#c0c0c0" stroke-dasharray="3 3"/><line x1="4" y1="419.5" x2="610" y2="419.5" stroke="#c0c0c0" stroke-dasharray="3 3"/><line x1="4" y1="438.5" x2="610" y2="438.5" stroke="#c0c0c0" stroke-dasharray="3 3"/>
<polyline points="3,411 7,402 11,401 15,399 19,398 23,392 27,390 31,390.5 35,399 39,405 43,423 47,415 51,421 55,433 59,446 63,451 67,447 71,445 75,441 79,435 83,426 87,406 91,396 95,396 99,395 103,396 107,400 111,396 115,390 119,397 123,400 127,418 131,436 135,450 139,446 143,444 147,444 151,436 155,411 159,392 163,404.5 167,407 171,414 175,420.5 179,426.6 183,436.5 187,447.5 191,445.6 195,439 199,438 203,428 207,419 211,396 215,387 219,396 223,406 227,417 231,426.6 235,435 239,423 243,429 247,436.5 251,435 255,445 259,439 263,431.5 267,410.6 271,392 275,393 279,389.7 283,387.2 287,391 291,400.8 295,411.8 299,405.7 303,399.5 307,418 311,445 315,450.5 319,450.5 323,428 327,418 331,405.7 335,402 339,398.3 343,391 347,387.2 351,387.2 355,391 359,399.5 363,423 367,414.3 371,404.5 375,407 379,399.5 383,392 387,387.2 391,387.2 395,388.5 399,391 403,392 407,387.2 411,389.7 415,391 419,392 423,389.7 427,389 431,389 435,388.5 439,391 443,400.8 447,410.6 451,430.3 455,413 459,391 463,388.5 467,388 471,391 475,404 479,431 483,439 487,434 491,429 495,440 499,423 503,427 507,427 511,428 515,408 519,401 523,420 527,436 531,446 535,449 539,446 543,434 547,392 551,395 555,399 559,405 563,404 567,399 571,392 575,401 579,417 583,433" fill="none" stroke="#20b2aa" stroke-width="1" stroke-linejoin="round" />
<polyline points="3,411.0 7,408.0 11,404.7 15,400.7 19,399.3 23,396.3 27,393.3 31,390.8 35,393.2 39,398.2 43,409.0 47,414.3 51,419.7 55,423.0 59,433.3 63,443.3 67,448.0 71,447.7 75,444.3 79,440.3 83,434.0 87,422.3 91,409.3 95,399.3 99,395.7 103,395.7 107,397.0 111,397.3 115,395.3 119,394.3 123,395.7 127,405.0 131,418.0 135,434.7 139,444.0 143,446.7 147,444.7 151,441.3 155,430.3 159,413.0 163,402.5 167,401.2 171,408.5 175,413.8 179,420.4 183,427.9 187,436.9 191,443.2 195,444.0 199,440.9 203,435.0 207,428.3 211,414.3 215,400.7 219,393.0 223,396.3 227,406.3 231,416.5 235,426.2 239,428.2 243,429.0 247,429.5 251,433.5 255,438.8 259,439.7 263,438.5 267,427.0 271,411.4 275,398.5 279,391.6 283,390.0 287,389.3 291,393.0 295,401.2 299,406.1 303,405.7 307,407.7 311,420.8 315,437.8 319,448.7 323,443.0 327,432.2 331,417.2 335,408.6 339,402.0 343,397.1 347,392.2 351,388.5 355,388.5 359,392.6 363,404.5 367,412.3 371,413.9 375,408.6 379,403.7 383,399.5 387,392.9 391,388.8 395,387.6 399,388.9 403,390.5 407,390.1 411,389.6 415,389.3 419,390.9 423,390.9 427,390.2 431,389.2 435,388.8 439,389.5 443,393.4 447,400.8 451,413.9 455,418.0 459,411.4 463,397.5 467,389.2 471,389.2 475,394.3 479,408.7 483,424.7 487,434.7 491,434.0 495,434.3 499,430.7 503,430.0 507,425.7 511,427.3 515,421.0 519,412.3 523,409.7 527,419.0 531,434.0 535,443.7 539,447.0 543,443.0 547,424.0 551,407.0 555,395.3 559,399.7 563,402.7 567,402.7 571,398.3 575,397.3 579,403.3 583,417.0" fill="none" stroke="#ff0000" stroke-width="1" stroke-linejoin="round" stroke-dasharray="3 3"/>
</g>
<g clip-path="url(#cd)" shape-rendering="crispEdges">
<line x1="4" y1="515.5" x2="610" y2="515.5" stroke="#c0c0c0" stroke-dasharray="3 3"/>
<line x1="3.5" y1="516" x2="3.5" y2="532.3" stroke="#c0c0c0"/>
<line x1="7.5" y1="516" x2="7.5" y2="532.1" stroke="#c0c0c0"/>
<line x1="11.5" y1="516" x2="11.5" y2="531.3" stroke="#c0c0c0"/>
<line x1="15.5" y1="516" x2="15.5" y2="530.9" stroke="#c0c0c0"/>
<line x1="19.5" y1="516" x2="19.5" y2="529.9" stroke="#c0c0c0"/>
<line x1="23.5" y1="516" x2="23.5" y2="529.1" stroke="#c0c0c0"/>
<line x1="27.5" y1="516" x2="27.5" y2="527.5" stroke="#c0c0c0"/>
<line x1="31.5" y1="516" x2="31.5" y2="525.4" stroke="#c0c0c0"/>
<line x1="35.5" y1="516" x2="35.5" y2="524.5" stroke="#c0c0c0"/>
<line x1="39.5" y1="516" x2="39.5" y2="523.6" stroke="#c0c0c0"/>
<line x1="43.5" y1="516" x2="43.5" y2="522.8" stroke="#c0c0c0"/>
<line x1="47.5" y1="516" x2="47.5" y2="520.9" stroke="#c0c0c0"/>
<line x1="51.5" y1="516" x2="51.5" y2="522.5" stroke="#c0c0c0"/>
<line x1="55.5" y1="516" x2="55.5" y2="523.5" stroke="#c0c0c0"/>
<line x1="59.5" y1="516" x2="59.5" y2="525.2" stroke="#c0c0c0"/>
<line x1="63.5" y1="516" x2="63.5" y2="527.7" stroke="#c0c0c0"/>
<line x1="67.5" y1="516" x2="67.5" y2="528.3" stroke="#c0c0c0"/>
<line x1="71.5" y1="516" x2="71.5" y2="529.8" stroke="#c0c0c0"/>
<line x1="75.5" y1="516" x2="75.5" y2="531.7" stroke="#c0c0c0"/>
<line x1="79.5" y1="516" x2="79.5" y2="531.1" stroke="#c0c0c0"/>
<line x1="83.5" y1="516" x2="83.5" y2="530.6" stroke="#c0c0c0"/>
<line x1="87.5" y1="516" x2="87.5" y2="527.8" stroke="#c0c0c0"/>
<line x1="91.5" y1="516" x2="91.5" y2="526.4" stroke="#c0c0c0"/>
<line x1="95.5" y1="516" x2="95.5" y2="524.5" stroke="#c0c0c0"/>
<line x1="99.5" y1="516" x2="99.5" y2="522.8" stroke="#c0c0c0"/>
<line x1="103.5" y1="516" x2="103.5" y2="521.4" stroke="#c0c0c0"/>
<line x1="107.5" y1="516" x2="107.5" y2="520.3" stroke="#c0c0c0"/>
<line x1="111.5" y1="516" x2="111.5" y2="517.8" stroke="#c0c0c0"/>
<line x1="115.5" y1="516" x2="115.5" y2="514.6" stroke="#c0c0c0"/>
<line x1="119.5" y1="516" x2="119.5" y2="513.2" stroke="#c0c0c0"/>
<line x1="123.5" y1="516" x2="123.5" y2="512.2" stroke="#c0c0c0"/>
<line x1="127.5" y1="516" x2="127.5" y2="513.0" stroke="#c0c0c0"/>
<line x1="131.5" y1="516" x2="131.5" y2="513.6" stroke="#c0c0c0"/>
<line x1="135.5" y1="516" x2="135.5" y2="514.2" stroke="#c0c0c0"/>
<line x1="139.5" y1="516" x2="139.5" y2="514.3" stroke="#c0c0c0"/>
<line x1="143.5" y1="516" x2="143.5" y2="515.8" stroke="#c0c0c0"/>
<line x1="147.5" y1="516" x2="147.5" y2="516.7" stroke="#c0c0c0"/>
<line x1="151.5" y1="516" x2="151.5" y2="516.6" stroke="#c0c0c0"/>
<line x1="155.5" y1="516" x2="155.5" y2="515.5" stroke="#c0c0c0"/>
<line x1="159.5" y1="516" x2="159.5" y2="514.1" stroke="#c0c0c0"/>
<line x1="163.5" y1="516" x2="163.5" y2="514.9" stroke="#c0c0c0"/>
<line x1="167.5" y1="516" x2="167.5" y2="514.0" stroke="#c0c0c0"/>
<line x1="171.5" y1="516" x2="171.5" y2="513.8" stroke="#c0c0c0"/>
<line x1="175.5" y1="516" x2="175.5" y2="515.0" stroke="#c0c0c0"/>
<line x1="179.5" y1="516" x2="179.5" y2="515.7" stroke="#c0c0c0"/>
<line x1="183.5" y1="516" x2="183.5" y2="516.8" stroke="#c0c0c0"/>
<line x1="187.5" y1="516" x2="187.5" y2="517.5" stroke="#c0c0c0"/>
<line x1="191.5" y1="516" x2="191.5" y2="517.5" stroke="#c0c0c0"/>
<line x1="195.5" y1="516" x2="195.5" y2="519.7" stroke="#c0c0c0"/>
<line x1="199.5" y1="516" x2="199.5" y2="519.9" stroke="#c0c0c0"/>
<line x1="203.5" y1="516" x2="203.5" y2="519.0" stroke="#c0c0c0"/>
<line x1="207.5" y1="516" x2="207.5" y2="517.5" stroke="#c0c0c0"/>
<line x1="211.5" y1="516" x2="211.5" y2="515.7" stroke="#c0c0c0"/>
<line x1="215.5" y1="516" x2="215.5" y2="515.5" stroke="#c0c0c0"/>
<line x1="219.5" y1="516" x2="219.5" y2="515.4" stroke="#c0c0c0"/>
<line x1="223.5" y1="516" x2="223.5" y2="514.1" stroke="#c0c0c0"/>
<line x1="227.5" y1="516" x2="227.5" y2="515.5" stroke="#c0c0c0"/>
<line x1="231.5" y1="516" x2="231.5" y2="515.2" stroke="#c0c0c0"/>
<line x1="235.5" y1="516" x2="235.5" y2="516.3" stroke="#c0c0c0"/>
<line x1="239.5" y1="516" x2="239.5" y2="516.8" stroke="#c0c0c0"/>
<line x1="243.5" y1="516" x2="243.5" y2="518.2" stroke="#c0c0c0"/>
<line x1="247.5" y1="516" x2="247.5" y2="518.2" stroke="#c0c0c0"/>
<line x1="251.5" y1="516" x2="251.5" y2="518.0" stroke="#c0c0c0"/>
<line x1="255.5" y1="516" x2="255.5" y2="517.8" stroke="#c0c0c0"/>
<line x1="259.5" y1="516" x2="259.5" y2="517.6" stroke="#c0c0c0"/>
<line x1="263.5" y1="516" x2="263.5" y2="517.4" stroke="#c0c0c0"/>
<line x1="267.5" y1="516" x2="267.5" y2="516.2" stroke="#c0c0c0"/>
<line x1="271.5" y1="516" x2="271.5" y2="515.2" stroke="#c0c0c0"/>
<line x1="275.5" y1="516" x2="275.5" y2="514.6" stroke="#c0c0c0"/>
<line x1="279.5" y1="516" x2="279.5" y2="514.2" stroke="#c0c0c0"/>
<line x1="283.5" y1="516" x2="283.5" y2="514.2" stroke="#c0c0c0"/>
<line x1="287.5" y1="516" x2="287.5" y2="513.1" stroke="#c0c0c0"/>
<line x1="291.5" y1="516" x2="291.5" y2="512.2" stroke="#c0c0c0"/>
<line x1="295.5" y1="516" x2="295.5" y2="512.1" stroke="#c0c0c0"/>
<line x1="299.5" y1="516" x2="299.5" y2="513.3" stroke="#c0c0c0"/>
<line x1="303.5" y1="516" x2="303.5" y2="515.0" stroke="#c0c0c0"/>
<line x1="307.5" y1="516" x2="307.5" y2="516.6" stroke="#c0c0c0"/>
<line x1="311.5" y1="516" x2="311.5" y2="518.2" stroke="#c0c0c0"/>
<line x1="315.5" y1="516" x2="315.5" y2="519.4" stroke="#c0c0c0"/>
<line x1="319.5" y1="516" x2="319.5" y2="524.8" stroke="#c0c0c0"/>
<line x1="323.5" y1="516" x2="323.5" y2="525.0" stroke="#c0c0c0"/>
<line x1="327.5" y1="516" x2="327.5" y2="525.6" stroke="#c0c0c0"/>
<line x1="331.5" y1="516" x2="331.5" y2="526.2" stroke="#c0c0c0"/>
<line x1="335.5" y1="516" x2="335.5" y2="525.3" stroke="#c0c0c0"/>
<line x1="339.5" y1="516" x2="339.5" y2="522.4" stroke="#c0c0c0"/>
<line x1="343.5" y1="516" x2="343.5" y2="519.1" stroke="#c0c0c0"/>
<line x1="347.5" y1="516" x2="347.5" y2="516.4" stroke="#c0c0c0"/>
<line x1="351.5" y1="516" x2="351.5" y2="514.3" stroke="#c0c0c0"/>
<line x1="355.5" y1="516" x2="355.5" y2="513.5" stroke="#c0c0c0"/>
<line x1="359.5" y1="516" x2="359.5" y2="512.9" stroke="#c0c0c0"/>
<line x1="363.5" y1="516" x2="363.5" y2="511.7" stroke="#c0c0c0"/>
<line x1="367.5" y1="516" x2="367.5" y2="510.7" stroke="#c0c0c0"/>
<line x1="371.5" y1="516" x2="371.5" y2="510.3" stroke="#c0c0c0"/>
<line x1="375.5" y1="516" x2="375.5" y2="510.0" stroke="#c0c0c0"/>
<line x1="379.5" y1="516" x2="379.5" y2="509.0" stroke="#c0c0c0"/>
<line x1="383.5" y1="516" x2="383.5" y2="508.2" stroke="#c0c0c0"/>
<line x1="387.5" y1="516" x2="387.5" y2="504.4" stroke="#c0c0c0"/>
<line x1="391.5" y1="516" x2="391.5" y2="500.6" stroke="#c0c0c0"/>
<line x1="395.5" y1="516" x2="395.5" y2="496.7" stroke="#c0c0c0"/>
<line x1="399.5" y1="516" x2="399.5" y2="494.7" stroke="#c0c0c0"/>
<line x1="403.5" y1="516" x2="403.5" y2="490.7" stroke="#c0c0c0"/>
<line x1="407.5" y1="516" x2="407.5" y2="487.0" stroke="#c0c0c0"/>
<line x1="411.5" y1="516" x2="411.5" y2="480.8" stroke="#c0c0c0"/>
<line x1="415.5" y1="516" x2="415.5" y2="477.3" stroke="#c0c0c0"/>
<line x1="419.5" y1="516" x2="419.5" y2="474.3" stroke="#c0c0c0"/>
<line x1="423.5" y1="516" x2="423.5" y2="471.9" stroke="#c0c0c0"/>
<line x1="427.5" y1="516" x2="427.5" y2="466.6" stroke="#c0c0c0"/>
<line x1="431.5" y1="516" x2="431.5" y2="463.5" stroke="#c0c0c0"/>
<line x1="435.5" y1="516" x2="435.5" y2="460.9" stroke="#c0c0c0"/>
<line x1="439.5" y1="516" x2="439.5" y2="459.7" stroke="#c0c0c0"/>
<line x1="443.5" y1="516" x2="443.5" y2="460.5" stroke="#c0c0c0"/>
<line x1="447.5" y1="516" x2="447.5" y2="461.8" stroke="#c0c0c0"/>
<line x1="451.5" y1="516" x2="451.5" y2="462.2" stroke="#c0c0c0"/>
<line x1="455.5" y1="516" x2="455.5" y2="463.1" stroke="#c0c0c0"/>
<line x1="459.5" y1="516" x2="459.5" y2="462.9" stroke="#c0c0c0"/>
<line x1="463.5" y1="516" x2="463.5" y2="463.4" stroke="#c0c0c0"/>
<line x1="467.5" y1="516" x2="467.5" y2="462.3" stroke="#c0c0c0"/>
<line x1="471.5" y1="516" x2="471.5" y2="462.4" stroke="#c0c0c0"/>
<line x1="475.5" y1="516" x2="475.5" y2="465.6" stroke="#c0c0c0"/>
<line x1="479.5" y1="516" x2="479.5" y2="470.5" stroke="#c0c0c0"/>
<line x1="483.5" y1="516" x2="483.5" y2="472.6" stroke="#c0c0c0"/>
<line x1="487.5" y1="516" x2="487.5" y2="475.8" stroke="#c0c0c0"/>
<line x1="491.5" y1="516" x2="491.5" y2="479.7" stroke="#c0c0c0"/>
<line x1="495.5" y1="516" x2="495.5" y2="483.9" stroke="#c0c0c0"/>
<line x1="499.5" y1="516" x2="499.5" y2="484.0" stroke="#c0c0c0"/>
<line x1="503.5" y1="516" x2="503.5" y2="487.8" stroke="#c0c0c0"/>
<line x1="507.5" y1="516" x2="507.5" y2="490.7" stroke="#c0c0c0"/>
<line x1="511.5" y1="516" x2="511.5" y2="490.8" stroke="#c0c0c0"/>
<line x1="515.5" y1="516" x2="515.5" y2="490.5" stroke="#c0c0c0"/>
<line x1="519.5" y1="516" x2="519.5" y2="492.4" stroke="#c0c0c0"/>
<line x1="523.5" y1="516" x2="523.5" y2="503.0" stroke="#c0c0c0"/>
<line x1="527.5" y1="516" x2="527.5" y2="511.0" stroke="#c0c0c0"/>
<line x1="531.5" y1="516" x2="531.5" y2="517.5" stroke="#c0c0c0"/>
<line x1="535.5" y1="516" x2="535.5" y2="521.6" stroke="#c0c0c0"/>
<line x1="539.5" y1="516" x2="539.5" y2="523.8" stroke="#c0c0c0"/>
<line x1="543.5" y1="516" x2="543.5" y2="522.0" stroke="#c0c0c0"/>
<line x1="547.5" y1="516" x2="547.5" y2="521.3" stroke="#c0c0c0"/>
<line x1="551.5" y1="516" x2="551.5" y2="520.5" stroke="#c0c0c0"/>
<line x1="555.5" y1="516" x2="555.5" y2="519.9" stroke="#c0c0c0"/>
<line x1="559.5" y1="516" x2="559.5" y2="519.5" stroke="#c0c0c0"/>
<line x1="563.5" y1="516" x2="563.5" y2="518.2" stroke="#c0c0c0"/>
<line x1="567.5" y1="516" x2="567.5" y2="515.6" stroke="#c0c0c0"/>
<line x1="571.5" y1="516" x2="571.5" y2="513.9" stroke="#c0c0c0"/>
<line x1="575.5" y1="516" x2="575.5" y2="513.5" stroke="#c0c0c0"/>
<line x1="579.5" y1="516" x2="579.5" y2="513.4" stroke="#c0c0c0"/>
<line x1="583.5" y1="516" x2="583.5" y2="513.4" stroke="#c0c0c0"/>
<polyline points="3,531.7 7,533.0 11,533.8 15,534.3 19,534.3 23,533.8 27,532.8 31,531.2 35,529.2 39,528.3 43,527.2 47,526.1 51,525.1 55,524.4 59,524.0 63,524.0 67,524.3 71,524.9 75,525.8 79,526.8 83,527.8 87,528.4 91,528.8 95,528.7 99,528.1 103,527.4 107,526.3 111,524.8 115,522.9 119,521.0 123,519.3 127,517.8 131,516.6 135,515.6 139,514.8 143,514.3 147,514.2 151,514.4 155,514.6 159,514.9 163,515.1 167,515.1 171,515.1 175,515.1 179,515.1 183,515.1 187,515.3 191,515.5 195,516.1 199,516.7 203,517.2 207,517.6 211,517.7 215,517.7 219,517.5 223,517.1 227,516.9 231,516.4 235,516.0 239,515.8 243,515.9 247,516.1 251,516.4 255,516.7 259,517.1 263,517.3 267,517.4 271,517.3 275,517.0 279,516.6 283,516.1 287,515.6 291,515.0 295,514.4 299,513.9 303,513.8 307,513.9 311,514.3 315,514.9 319,516.1 323,517.4 327,518.9 331,520.5 335,521.8 339,522.6 343,522.9 347,522.7 351,522.1 355,520.9 359,519.5 363,518.0 367,516.2 371,514.6 375,513.2 379,512.1 383,511.2 387,510.1 391,508.6 395,506.8 399,505.0 403,502.7 407,500.1 411,496.9 415,493.4 419,489.6 423,486.0 427,482.2 431,478.5 435,474.8 439,471.3 443,468.4 447,466.3 451,464.6 455,463.4 459,462.4 463,462.0 467,461.9 471,462.0 475,462.7 479,463.8 483,465.0 487,466.5 491,468.4 495,470.7 499,473.0 503,475.8 507,479.0 511,481.8 515,484.0 519,486.2 523,489.2 527,492.7 531,496.4 535,500.6 539,504.6 543,508.1 547,511.5 551,514.8 555,517.9 559,519.7 563,520.5 567,520.3 571,519.4 575,518.3 579,517.3 583,516.4" fill="none" stroke="#ff0000" stroke-width="1" stroke-linejoin="round" />
</g>
<g shape-rendering="crispEdges" fill="none" stroke="#000">
<rect x="2.5" y="2.5" width="608" height="308"/>
<rect x="2.5" y="312.5" width="608" height="72"/>
<rect x="2.5" y="386.5" width="608" height="65"/>
<rect x="2.5" y="453.5" width="608" height="86"/>
</g>
<g shape-rendering="crispEdges" stroke="#000">
<line x1="611" y1="9.5" x2="613" y2="9.5"/>
<line x1="611" y1="42.5" x2="613" y2="42.5"/>
<line x1="611" y1="75.5" x2="613" y2="75.5"/>
<line x1="611" y1="108.5" x2="613" y2="108.5"/>
<line x1="611" y1="141.5" x2="613" y2="141.5"/>
<line x1="611" y1="174.5" x2="613" y2="174.5"/>
<line x1="611" y1="208.5" x2="613" y2="208.5"/>
<line x1="611" y1="241.5" x2="613" y2="241.5"/>
<line x1="611" y1="274.5" x2="613" y2="274.5"/>
<line x1="611" y1="307.5" x2="613" y2="307.5"/>
<line x1="3.5" y1="540" x2="3.5" y2="543"/>
<line x1="67.5" y1="540" x2="67.5" y2="543"/>
<line x1="131.5" y1="540" x2="131.5" y2="543"/>
<line x1="195.5" y1="540" x2="195.5" y2="543"/>
<line x1="259.5" y1="540" x2="259.5" y2="543"/>
<line x1="323.5" y1="540" x2="323.5" y2="543"/>
<line x1="387.5" y1="540" x2="387.5" y2="543"/>
<line x1="451.5" y1="540" x2="451.5" y2="543"/>
<line x1="515.5" y1="540" x2="515.5" y2="543"/>
<line x1="579.5" y1="540" x2="579.5" y2="543"/>
</g>
<text x="616.5" y="13" fill="#000" stroke="#000" textLength="27" lengthAdjust="spacingAndGlyphs" >17.810</text>
<text x="616.5" y="46" fill="#000" stroke="#000" textLength="27" lengthAdjust="spacingAndGlyphs" >17.680</text>
<text x="616.5" y="79" fill="#000" stroke="#000" textLength="27" lengthAdjust="spacingAndGlyphs" >17.550</text>
<text x="616.5" y="112" fill="#000" stroke="#000" textLength="27" lengthAdjust="spacingAndGlyphs" >17.420</text>
<text x="616.5" y="145" fill="#000" stroke="#000" textLength="27" lengthAdjust="spacingAndGlyphs" >17.290</text>
<text x="616.5" y="178" fill="#000" stroke="#000" textLength="27" lengthAdjust="spacingAndGlyphs" >17.160</text>
<text x="616.5" y="212" fill="#000" stroke="#000" textLength="27" lengthAdjust="spacingAndGlyphs" >17.030</text>
<text x="616.5" y="245" fill="#000" stroke="#000" textLength="27" lengthAdjust="spacingAndGlyphs" >16.900</text>
<text x="616.5" y="278" fill="#000" stroke="#000" textLength="27" lengthAdjust="spacingAndGlyphs" >16.770</text>
<text x="616.5" y="311" fill="#000" stroke="#000" textLength="27" lengthAdjust="spacingAndGlyphs" >16.640</text>
<rect x="612" y="31" width="36" height="11" fill="#ff0000"/><text x="616.5" y="40" fill="#fff" stroke="#fff" textLength="27" lengthAdjust="spacingAndGlyphs" >17.700</text>
<rect x="612" y="56" width="36" height="11" fill="#ff0000"/><text x="616.5" y="65" fill="#fff" stroke="#fff" textLength="27" lengthAdjust="spacingAndGlyphs" >17.600</text>
<rect x="612" y="95" width="36" height="11" fill="#000"/><text x="616.5" y="103.5" fill="#fff" stroke="#fff" textLength="27" lengthAdjust="spacingAndGlyphs" >17.450</text>
<rect x="612" y="100" width="36" height="11" fill="#008000"/><text x="616.5" y="109" fill="#fff" stroke="#fff" textLength="27" lengthAdjust="spacingAndGlyphs" >17.428</text>
<rect x="612" y="136" width="36" height="11" fill="#008000"/><text x="616.5" y="145" fill="#fff" stroke="#fff" textLength="27" lengthAdjust="spacingAndGlyphs" >17.288</text>
<rect x="612" y="178" width="36" height="11" fill="#008000"/><text x="616.5" y="187" fill="#fff" stroke="#fff" textLength="27" lengthAdjust="spacingAndGlyphs" >17.124</text>
<text x="614.3" y="323" fill="#000" stroke="#000" textLength="14.3" lengthAdjust="spacingAndGlyphs" >100</text>
<text x="613.6" y="338" fill="#000" stroke="#000" textLength="9.3" lengthAdjust="spacingAndGlyphs" >70</text>
<text x="613.6" y="366" fill="#000" stroke="#000" textLength="9.3" lengthAdjust="spacingAndGlyphs" >30</text>
<text x="614" y="381" fill="#000" stroke="#000" textLength="4.7" lengthAdjust="spacingAndGlyphs" >0</text>
<clipPath id="sa"><rect x="611" y="386" width="39" height="65"/></clipPath><g clip-path="url(#sa)">
<text x="614.4" y="390" fill="#000" stroke="#000" textLength="14.3" lengthAdjust="spacingAndGlyphs" >100</text>
<text x="614.4" y="397" fill="#000" stroke="#000" textLength="14.3" lengthAdjust="spacingAndGlyphs" >100</text>
<text x="613" y="404" fill="#000" stroke="#000" textLength="9.3" lengthAdjust="spacingAndGlyphs" >80</text>
<text x="613" y="423" fill="#000" stroke="#000" textLength="9.3" lengthAdjust="spacingAndGlyphs" >50</text>
<text x="613" y="441" fill="#000" stroke="#000" textLength="9.3" lengthAdjust="spacingAndGlyphs" >20</text>
<text x="613" y="448" fill="#000" stroke="#000" textLength="4.7" lengthAdjust="spacingAndGlyphs" >0</text>
<text x="613" y="455" fill="#000" stroke="#000" textLength="4.7" lengthAdjust="spacingAndGlyphs" >0</text>
</g>
<text x="613.9" y="464" fill="#000" stroke="#000" textLength="27.8" lengthAdjust="spacingAndGlyphs" >0.1436</text>
<text x="613.9" y="518" fill="#000" stroke="#000" textLength="17.3" lengthAdjust="spacingAndGlyphs" >0.00</text>
<text x="614.2" y="536" fill="#000" stroke="#000" textLength="30" lengthAdjust="spacingAndGlyphs" >-0.0563</text>
<g shape-rendering="crispEdges" stroke="#000">
<line x1="611" y1="314.5" x2="613" y2="314.5"/>
<line x1="611" y1="382.5" x2="613" y2="382.5"/>
<line x1="611" y1="388.5" x2="613" y2="388.5"/>
<line x1="611" y1="450.5" x2="613" y2="450.5"/>
<line x1="611" y1="455.5" x2="613" y2="455.5"/>
<line x1="611" y1="515.5" x2="613" y2="515.5"/>
<line x1="611" y1="537.5" x2="613" y2="537.5"/>
</g>
<g shape-rendering="crispEdges" fill="#fff">
<rect x="610" y="334" width="1" height="1"/>
<rect x="610" y="362" width="1" height="1"/>
<rect x="610" y="400" width="1" height="1"/>
<rect x="610" y="419" width="1" height="1"/>
<rect x="610" y="438" width="1" height="1"/>
</g>
<path d="M6,9.5 L13,9.5 L9.5,13 Z" fill="#000"/>
<text x="18" y="14" fill="#000" stroke="#000" textLength="181" lengthAdjust="spacingAndGlyphs" xml:space="preserve">XAGUSD,H1  17.450 17.476 17.441 17.450</text>
<text x="7.3" y="325" fill="#000" stroke="#000" textLength="151" lengthAdjust="spacingAndGlyphs" xml:space="preserve">RSI(14) 50.6370  -&gt;MA(18) 51.9323</text>
<text x="7.5" y="398.5" fill="#000" stroke="#000" textLength="122" lengthAdjust="spacingAndGlyphs" >Stoch(5,3,3) 26.6667 48.0899</text>
<text x="7.5" y="466" fill="#000" stroke="#000" textLength="129" lengthAdjust="spacingAndGlyphs" >MACD(12,26,9) 0.0034 -0.0042</text>
<text x="3" y="552" fill="#000" stroke="#000" textLength="48.5" lengthAdjust="spacingAndGlyphs" >18 Jan 2018</text>
<text x="67" y="552" fill="#000" stroke="#000" textLength="51.6" lengthAdjust="spacingAndGlyphs" >18 Jan 19:00</text>
<text x="131" y="552" fill="#000" stroke="#000" textLength="51.6" lengthAdjust="spacingAndGlyphs" >19 Jan 12:00</text>
<text x="195" y="552" fill="#000" stroke="#000" textLength="51.6" lengthAdjust="spacingAndGlyphs" >22 Jan 06:00</text>
<text x="259" y="552" fill="#000" stroke="#000" textLength="51.6" lengthAdjust="spacingAndGlyphs" >22 Jan 23:00</text>
<text x="323" y="552" fill="#000" stroke="#000" textLength="51.6" lengthAdjust="spacingAndGlyphs" >23 Jan 15:00</text>
<text x="387" y="552" fill="#000" stroke="#000" textLength="51.6" lengthAdjust="spacingAndGlyphs" >24 Jan 08:00</text>
<text x="451" y="552" fill="#000" stroke="#000" textLength="51.6" lengthAdjust="spacingAndGlyphs" >25 Jan 01:00</text>
<text x="515" y="552" fill="#000" stroke="#000" textLength="51.6" lengthAdjust="spacingAndGlyphs" >25 Jan 17:00</text>
<text x="579" y="552" fill="#000" stroke="#000" textLength="51.6" lengthAdjust="spacingAndGlyphs" >26 Jan 10:00</text>
</svg></body></html>
